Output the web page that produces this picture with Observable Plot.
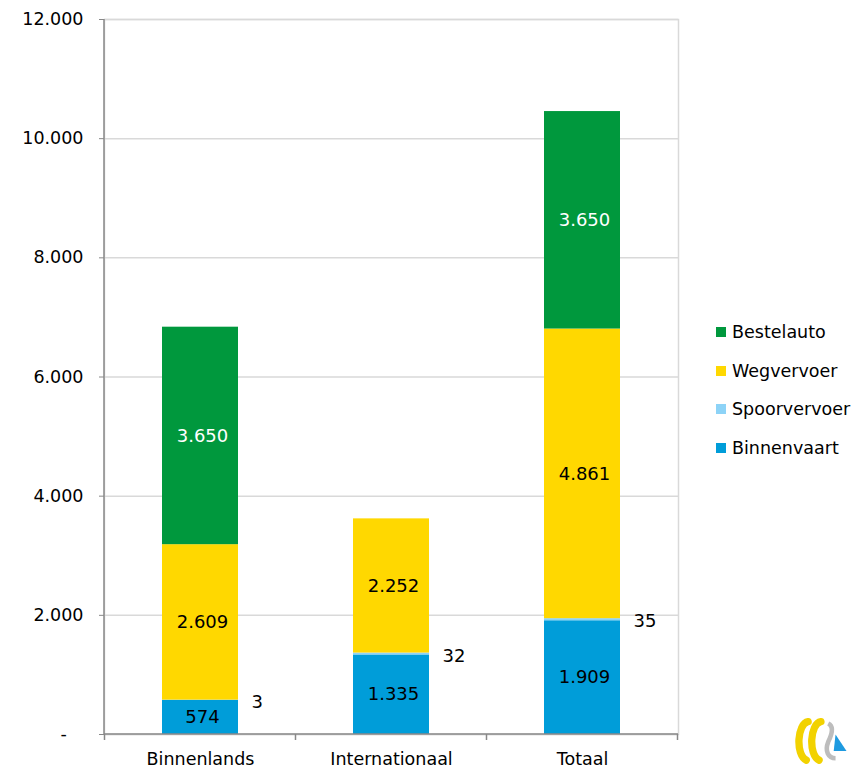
<!DOCTYPE html>
<html>
<head>
<meta charset="utf-8">
<script src="https://cdn.jsdelivr.net/npm/d3@7"></script>
<script src="https://cdn.jsdelivr.net/npm/@observablehq/plot@0.6"></script>
<style>
  html, body { margin: 0; padding: 0; background: #fff; }
  #wrap { position: relative; width: 864px; height: 772px; font-family: "DejaVu Sans", sans-serif; }
  #legend { position: absolute; left: 716px; top: 321px; font-size: 17.5px; color: #000; }
  #legend .item { position: relative; height: 38.5px; line-height: 22px; padding-left: 16px; white-space: nowrap; }
  #legend .sw { position: absolute; left: 0; top: 6px; width: 10px; height: 10px; }
  #logo { position: absolute; left: 788px; top: 714px; }
</style>
</head>
<body>
<div id="wrap"></div>
<script>
const categories = ["Binnenlands", "Internationaal", "Totaal"];
const modes = ["Binnenvaart", "Spoorvervoer", "Wegvervoer", "Bestelauto"];
const binnenvaart = [574, 1335, 1909];
const spoorvervoer = [3, 32, 35];
const wegvervoer = [2609, 2252, 4861];
const bestelauto = [3650, 0, 3650];
const colors = ["#009DD9", "#8DD3F7", "#FFD800", "#00983D"];
const yTicks = [0, 2000, 4000, 6000, 8000, 10000, 12000];
const legendOrder = ["Bestelauto", "Wegvervoer", "Spoorvervoer", "Binnenvaart"];

const series = [binnenvaart, spoorvervoer, wegvervoer, bestelauto];
const fmt = v => d3.format(",")(v).replace(/,/g, ".");

const rows = [];
categories.forEach((cat, j) => {
  let base = 0;
  modes.forEach((mode, i) => {
    const value = series[i][j];
    rows.push({cat, mode, value, mid: base + value / 2});
    base += value;
  });
});
const labelled = rows.filter(d => d.value > 0);
const inside = labelled.filter(d => d.value >= 100);
const outside = labelled.filter(d => d.value < 100);

const width = 864, height = 772;
const margin = {left: 104, right: 186, top: 19, bottom: 38};

function axesLines(index, scales, values, dims) {
  const x = scales.x, y = scales.y;
  const step = x(categories[1]) - x(categories[0]);
  const bw = typeof x.bandwidth === "function" ? x.bandwidth() : (x.bandwidth ?? step * 0.4);
  const g = d3.create("svg:g").attr("stroke", "#888").attr("stroke-width", 1.5).attr("fill", "none");
  const y0 = y(0);
  g.append("line").attr("x1", dims.marginLeft).attr("x2", dims.width - dims.marginRight)
    .attr("y1", y0).attr("y2", y0);
  g.append("line").attr("x1", dims.marginLeft).attr("x2", dims.marginLeft)
    .attr("y1", y(12000)).attr("y2", y0);
  for (let i = 0; i <= categories.length; i++) {
    const px = x(categories[0]) + bw / 2 - step / 2 + i * step;
    g.append("line").attr("x1", px).attr("x2", px).attr("y1", y0).attr("y2", y0 + 6);
  }
  return g.node();
}

const chart = Plot.plot({
  width, height,
  marginLeft: margin.left, marginRight: margin.right, marginTop: margin.top, marginBottom: margin.bottom,
  x: {domain: categories, paddingInner: 0.6, paddingOuter: 0.3},
  y: {domain: [0, 12000]},
  color: {domain: modes, range: colors},
  style: {fontFamily: "DejaVu Sans, sans-serif", fontSize: "17px", color: "#000", background: "#fff"},
  marks: [
    Plot.gridY(yTicks, {stroke: "#d9d9d9", strokeOpacity: 1, strokeWidth: 1.5}),
    Plot.frame({stroke: "#d9d9d9", strokeWidth: 1.5}),
    Plot.barY(rows, Plot.stackY({x: "cat", y: "value", fill: "mode", order: modes})),
    Plot.text(inside.filter(d => d.mode !== "Bestelauto"), {x: "cat", y: "mid", text: d => fmt(d.value), fill: "#000", dx: 2, fontSize: 18}),
    Plot.text(inside.filter(d => d.mode === "Bestelauto"), {x: "cat", y: "mid", text: d => fmt(d.value), fill: "#fff", dx: 2, fontSize: 18}),
    Plot.text(outside, {x: "cat", y: "mid", text: d => fmt(d.value), fill: "#000", dx: 51, dy: 2, textAnchor: "start", fontSize: 18}),
    Plot.axisY(yTicks, {tickFormat: d => d === 0 ? "-\u00a0\u00a0\u00a0" : fmt(d), tickSize: 5, tickPadding: 16, stroke: "#888", fill: "#000", label: null, fontSize: 17.5}),
    Plot.axisX({tickSize: 0, tickPadding: 18, fill: "#000", label: null, fontSize: 17.5}),
    axesLines
  ]
});

const wrap = document.getElementById("wrap");
wrap.appendChild(chart);

const legend = document.createElement("div");
legend.id = "legend";
legendOrder.forEach(m => {
  const it = document.createElement("div");
  it.className = "item";
  const sw = document.createElement("span");
  sw.className = "sw";
  sw.style.background = colors[modes.indexOf(m)];
  it.appendChild(sw);
  it.appendChild(document.createTextNode(m));
  legend.appendChild(it);
});
wrap.appendChild(legend);

const logo = document.createElement("div");
logo.id = "logo";
logo.innerHTML = `<svg width="64" height="52" viewBox="0 0 70 56">
  <path d="M22 8 C10 10 8 44 20 50" stroke="#F2D200" stroke-width="8" fill="none" stroke-linecap="round"/>
  <path d="M36 8 C24 10 22 44 34 50" stroke="#F2D200" stroke-width="8" fill="none" stroke-linecap="round"/>
  <path d="M44 10 C52 14 46 26 44 30 C40 40 44 48 52 48" stroke="#BDBDBD" stroke-width="5" fill="none"/>
  <polygon points="52,22 64,40 50,40" fill="#1E9AE0"/>
</svg>`;
wrap.appendChild(logo);
</script>
</body>
</html>
